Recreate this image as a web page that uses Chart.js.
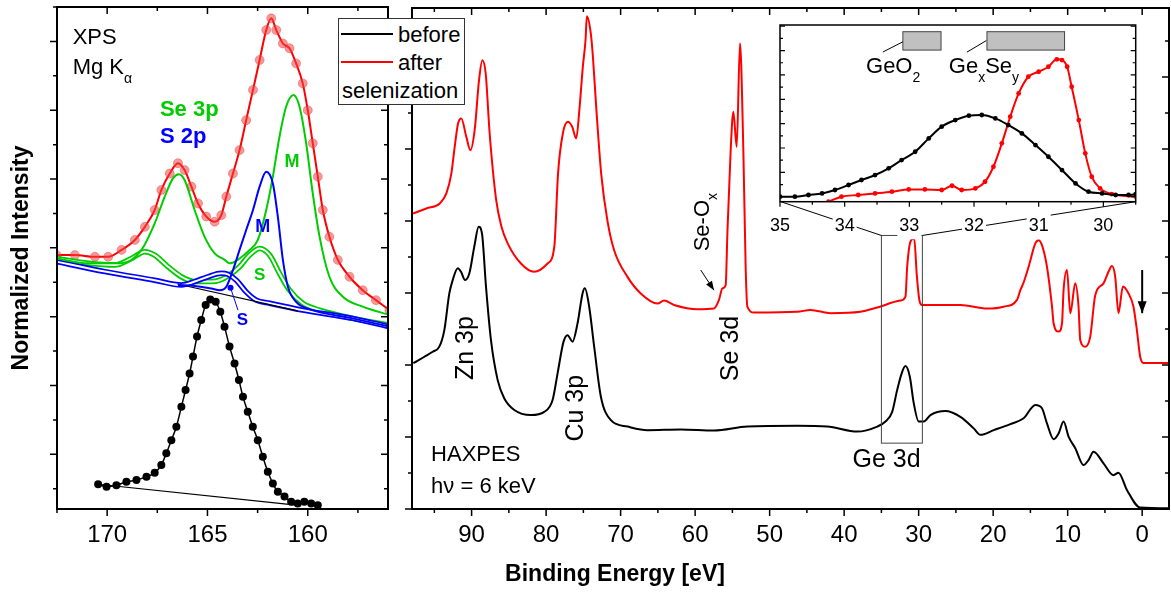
<!DOCTYPE html>
<html>
<head>
<meta charset="utf-8">
<script src="https://cdn.jsdelivr.net/npm/chart.js@4.4.1/dist/chart.umd.min.js"></script>
<style>
  body { margin: 0; background: #fff; }
  #fig { position: relative; width: 1171px; height: 594px; overflow: hidden; font-family: 'Liberation Sans', Arial, sans-serif; color: #000; }
  #fig canvas { position: absolute; }
  #legend { position: absolute; left: 338px; top: 18px; width: 127px; height: 87px; box-sizing: border-box; border: 1px solid #333; background: #fff; font-size: 22px; }
  #legend .sw { position: absolute; left: 2px; width: 52px; height: 2px; }
  #legend span { position: absolute; transform: translateY(-50%); line-height: 1; white-space: nowrap; }
  #xtitle { position: absolute; left: 615px; top: 573px; transform: translate(-50%, -50%); font-size: 23px; font-weight: bold; white-space: nowrap; }
</style>
</head>
<body>
<div id="fig">
  <canvas id="xps" width="400" height="594" style="left:0;top:0"></canvas>
  <canvas id="hax" width="771" height="594" style="left:400px;top:0"></canvas>
  <canvas id="ins" width="400" height="245" style="left:760px;top:0"></canvas>
  <div id="legend">
    <div class="sw" style="top:14px;background:#000"></div><span style="left:59px;top:16px">before</span>
    <div class="sw" style="top:42px;background:#f00"></div><span style="left:59px;top:44px">after</span>
    <span style="left:3px;top:72px">selenization</span>
  </div>
  <div id="xtitle">Binding Energy [eV]</div>
</div>
<script>
const FONT = "'Liberation Sans', Arial, sans-serif";
const RED = '#ff0000', GREEN = '#00cc00', BLUE = '#0000ff';

// --- XPS panel (Se 3p / S 2p), binding energy in eV, intensity in tick units ---
const xpsBeforeE = [170.45, 170.03, 169.54, 169.04, 168.54, 168.04, 167.63, 167.3, 167.05, 166.8,
  166.55, 166.3, 166.09, 165.89, 165.72, 165.52, 165.31, 165.09, 164.86, 164.59,
  164.36, 164.15, 163.9, 163.65, 163.43, 163.23, 162.99, 162.74, 162.49, 162.24,
  161.99, 161.74, 161.49, 161.16, 160.83, 160.5, 160.17, 159.83, 159.5];
const xpsBefore = [1.13, 1.06, 1.10, 1.20, 1.25, 1.35, 1.46, 1.69, 2.03, 2.41,
  2.80, 3.38, 3.87, 4.35, 4.84, 5.42, 5.90, 6.34, 6.50, 6.43,
  6.14, 5.71, 5.13, 4.64, 4.16, 3.67, 3.24, 2.80, 2.41, 1.93,
  1.49, 1.15, 0.91, 0.77, 0.62, 0.57, 0.62, 0.57, 0.52];
const xpsBeforeBgE = [170.45, 160.58];
const xpsBeforeBg = [1.13, 0.52];

const xpsAfterE = [172.52, 171.61, 170.61, 169.95, 169.28, 168.62, 168.12, 167.63, 167.3, 166.88,
  166.47, 166.14, 165.8, 165.47, 165.06, 164.64, 164.31, 164.06, 163.73, 163.4,
  163.07, 162.73, 162.4, 162.07, 161.82, 161.57, 161.24, 160.91, 160.58, 160.25,
  160.0, 159.75, 159.5, 159.25, 158.92, 158.5, 157.92, 157.26, 156.6, 155.93];
const xpsAfter = [7.79, 7.79, 7.74, 7.74, 7.94, 8.23, 8.61, 9.1, 9.68, 10.16,
  10.46, 10.26, 9.78, 9.29, 8.91, 8.76, 8.95, 9.49, 10.16, 10.84,
  11.71, 12.59, 13.46, 14.33, 14.67, 14.33, 13.94, 13.8, 13.36, 12.78,
  12.0, 11.04, 10.07, 9.1, 8.32, 7.65, 7.16, 6.77, 6.48, 6.19];

const seME = [172.52, 170.94, 169.28, 168.29, 167.63, 167.13, 166.72, 166.43, 166.14, 165.64,
  165.14, 164.64, 164.14, 163.9, 163.4, 162.9, 162.49, 162.07, 161.74, 161.41,
  161.08, 160.71, 160.41, 160.08, 159.75, 159.41, 158.92, 158.25, 157.26, 155.93];
const seM = [7.69, 7.55, 7.55, 7.94, 8.71, 9.49, 10.02, 10.14, 9.97, 9.1,
  8.32, 7.84, 7.65, 7.55, 7.69, 7.94, 8.23, 9.1, 10.07, 11.23,
  12.1, 12.44, 12.1, 11.04, 9.58, 8.32, 7.16, 6.58, 6.29, 6.05];

const seSE = [172.52, 170.94, 169.62, 168.79, 168.12, 167.63, 166.96, 166.3, 165.64, 164.81,
  164.39, 163.9, 163.4, 162.9, 162.4, 161.9, 161.41, 160.91, 160.25, 159.41, 157.76, 155.93];
const seS = [7.69, 7.55, 7.5, 7.69, 7.89, 7.79, 7.45, 7.16, 7.02, 7.02,
  7.06, 7.21, 7.45, 7.79, 7.98, 7.79, 7.26, 6.77, 6.39, 6.19, 5.95, 5.76];

const sSE = [172.52, 170.11, 167.63, 166.3, 165.64, 164.98, 164.31, 163.98, 163.56, 163.07,
  162.57, 161.9, 160.25, 157.76, 155.93];
const sS = [7.6, 7.31, 7.06, 6.92, 7.02, 7.16, 7.26, 7.23, 7.06, 6.72,
  6.48, 6.39, 6.19, 5.95, 5.71];

const sME = [166.47, 165.64, 164.81, 164.39, 164.06, 163.73, 163.4, 163.07, 162.73, 162.4,
  162.07, 161.74, 161.49, 161.24, 160.99, 160.58, 159.92, 157.76, 155.93];
const sM = [6.92, 6.89, 6.82, 6.77, 6.87, 7.35, 7.94, 8.52, 9.1, 9.78,
  10.21, 9.87, 8.9, 7.65, 6.87, 6.43, 6.22, 5.95, 5.71];

const xpsBgE = [166.5, 160.5];
const xpsBg = [6.95, 6.17];

const xpsMajorE = [170, 165, 160];
const xpsMinorE = [172.5, 167.5, 162.5, 157.5];
const xpsMajorY = [2, 4, 6, 8, 10, 12, 14];
const xpsMinorY = [1, 3, 5, 7, 9, 11, 13, 15];

// --- HAXPES survey ---
const haxAfterE = [97.86, 96.07, 94.28, 93.39, 92.72, 92.27, 91.82, 91.38, 90.71, 90.17,
  89.59, 89.0, 88.56, 88.11, 87.58, 86.7, 86.0, 85.16, 83.38, 81.6,
  79.8, 78.9, 78.4, 77.75, 77.08, 76.5, 75.96, 75.5, 75.07, 74.71,
  74.53, 74.0, 73.73, 73.28, 72.6, 71.76, 70.87, 69.08, 67.3, 65.05,
  64.17, 62.83, 59.69, 57.47, 56.8, 56.34, 55.9, 55.67, 55.23, 54.87,
  54.42, 53.98, 53.53, 53.22, 52.99, 52.1, 46.29, 44.5, 41.82, 37.8,
  35.56, 32.44, 31.77, 31.54, 31.1, 30.6, 30.25, 29.9, 29.55, 24.4,
  20.82, 18.59, 16.8, 16.35, 15.9, 15.24, 14.34, 13.9, 13.45, 12.78,
  12.1, 11.89, 11.22, 10.76, 10.55, 10.09, 9.65, 8.98, 8.54, 8.31,
  7.64, 6.97, 6.3, 5.19, 4.52, 4.06, 3.62, 3.18, 2.59, 1.84,
  1.17, 0.71, 0.27, -0.17, -3.75];
const haxAfter = [8.21, 8.35, 8.49, 8.77, 9.32, 10.06, 10.71, 10.85, 10.34, 9.97,
  10.53, 11.92, 12.47, 12.1, 10.44, 8.58, 7.85, 7.38, 6.82, 6.59,
  6.82, 7.29, 9.32, 10.44, 10.76, 10.62, 10.3, 11.18, 12.29, 13.03,
  13.69, 13.21, 12.6, 11.18, 9.3, 8.0, 7.19, 6.45, 5.99, 5.71,
  5.79, 5.67, 5.55, 5.57, 5.81, 6.13, 6.22, 7.66, 9.97, 11.04,
  10.06, 12.94, 9.97, 6.73, 5.62, 5.46, 5.48, 5.53, 5.44, 5.48,
  5.6, 5.79, 5.9, 6.73, 7.43, 7.52, 6.5, 5.8, 5.67, 5.67,
  5.57, 5.62, 5.81, 6.08, 6.3, 6.73, 7.38, 7.47, 7.33, 6.73,
  5.62, 5.16, 4.93, 5.16, 6.08, 6.64, 5.44, 6.27, 5.62, 4.69,
  4.51, 4.79, 5.94, 6.27, 6.59, 6.75, 6.45, 5.44, 6.18, 5.99,
  5.62, 4.97, 4.23, 4.06, 4.06];

const haxBeforeE = [97.82, 96.34, 95.22, 94.33, 93.66, 92.99, 92.54, 91.86, 91.42, 90.88,
  90.3, 89.64, 89.05, 88.61, 88.07, 87.4, 86.5, 85.61, 84.27, 82.04,
  80.25, 79.13, 78.46, 77.66, 77.12, 76.45, 75.78, 75.11, 74.8, 74.22,
  73.55, 72.65, 71.31, 69.08, 66.39, 61.93, 57.47, 52.99, 46.29, 42.27,
  38.24, 35.56, 34.45, 33.55, 32.88, 32.21, 31.77, 31.19, 30.66, 29.99,
  29.32, 28.42, 26.41, 24.4, 22.61, 21.72, 19.93, 17.69, 15.91, 14.34,
  13.45, 12.78, 11.89, 11.22, 10.55, 9.88, 8.98, 7.87, 7.2, 6.53,
  5.19, 3.85, 3.18, 2.05, 0.27, -3.75];
const haxBefore = [4.05, 4.23, 4.37, 4.51, 4.97, 5.99, 6.36, 6.69, 6.59, 6.36,
  6.55, 7.29, 7.84, 7.66, 6.18, 4.69, 3.58, 3.07, 2.75, 2.61,
  2.7, 3.03, 3.77, 4.65, 4.83, 4.65, 5.16, 5.99, 6.13, 5.62,
  4.51, 3.12, 2.47, 2.29, 2.19, 2.21, 2.18, 2.29, 2.31, 2.29,
  2.15, 2.29, 2.43, 2.7, 3.31, 3.81, 3.97, 3.68, 2.94, 2.43,
  2.43, 2.61, 2.72, 2.56, 2.24, 2.06, 2.19, 2.36, 2.52, 2.89,
  2.8, 2.38, 1.94, 2.1, 2.43, 2.01, 1.69, 1.22, 1.36, 1.59,
  1.27, 0.94, 1.01, 0.53, 0.04, 0.02];

const haxMajorE = [0, 10, 20, 30, 40, 50, 60, 70, 80, 90];
const haxMinorE = [5, 15, 25, 35, 45, 55, 65, 75, 85, 95];
const haxMajorY = [0, 2, 4, 6, 8, 10, 12];
const haxMinorY = [1, 3, 5, 7, 9, 11, 13];

// --- inset: Ge 3d ---
const geBeforeE = [35.0, 34.77, 34.56, 34.35, 34.15, 33.94, 33.74, 33.53, 33.32, 33.12,
  32.91, 32.7, 32.5, 32.29, 32.08, 31.88, 31.67, 31.47, 31.26, 31.05,
  30.85, 30.64, 30.43, 30.23, 30.02, 29.81, 29.61, 29.5];
const geBefore = [0, 0, 0.14, 0.27, 0.55, 0.96, 1.37, 1.78, 2.33, 3.01,
  3.69, 4.79, 5.75, 6.29, 6.65, 6.71, 6.43, 5.88, 5.2, 4.24,
  3.28, 2.19, 1.09, 0.41, 0.27, 0.14, 0.14, 0.22];
const geAfterE = [34.25, 34.05, 33.79, 33.53, 33.27, 33.01, 32.76, 32.5, 32.34, 32.19,
  31.98, 31.83, 31.7, 31.57, 31.44, 31.31, 31.16, 31.0, 30.85, 30.72,
  30.64, 30.56, 30.49, 30.38, 30.28, 30.18, 30.05, 29.87, 29.5];
const geAfter = [-0.41, 0, 0.14, 0.27, 0.41, 0.6, 0.6, 0.55, 0.9, 0.55,
  0.68, 1.23, 2.46, 4.38, 6.57, 8.48, 9.85, 10.26, 10.67, 11.28,
  11.22, 10.67, 9.03, 6.29, 3.56, 1.64, 0.68, 0.22, 0];

const geMajorE = [30, 31, 32, 33, 34, 35];
const geMinorE = [29.5, 30.5, 31.5, 32.5, 33.5, 34.5];
const geMajorY = [0, 2, 4, 6, 8, 10, 12, 14];
const geMinorY = [1, 3, 5, 7, 9, 11, 13];

function pts(xs, ys) { return xs.map((x, i) => ({ x, y: ys[i] })); }

function curve(data, color, width, order, extra) {
  return Object.assign({
    data, borderColor: color, borderWidth: width, pointRadius: 0, fill: false,
    cubicInterpolationMode: 'monotone', order
  }, extra || {});
}

// open-circle components drawn as a hollow tube
function tube(data, color, order) {
  return [curve(data, color, 5.5, order), curve(data, '#fff', 2, order - 0.5)];
}

// frame + tick layout and annotations per canvas (kept outside the chart options)
const FRAMES = {
  xps: {
    lineWidth: 2, tickWidth: 1.5, len: [7, 4],
    sides: { left: 'out', right: 'in', top: 'in', bottom: 'out' },
    major: { x: xpsMajorE, y: xpsMajorY }, minor: { x: xpsMinorE, y: xpsMinorY }
  },
  hax: {
    lineWidth: 2, tickWidth: 1.5, len: [7, 4],
    sides: { left: 'out', right: 'in', top: 'in', bottom: 'out' },
    major: { x: haxMajorE, y: haxMajorY }, minor: { x: haxMinorE, y: haxMinorY }
  },
  ins: {
    bg: '#fff', lineWidth: 1.5, tickWidth: 1.2, len: [5, 3],
    sides: { left: 'in', right: 'in', bottom: 'out' },
    major: { x: geMajorE, y: geMajorY }, minor: { x: geMinorE, y: geMinorY }
  }
};

const NOTES = {
  xps: {
    lines: [{ from: [163.85, 6.84], to: [163.48, 6.19], color: BLUE, width: 1 }],
    dots: [{ at: [163.85, 6.84], r: 3, color: BLUE }],
    texts: [
      { at: [171.72, 14.1], text: 'XPS', size: 22 },
      { at: [171.72, 13.23], parts: [['Mg K', 0], ['α', 1]], size: 22 },
      { at: [167.37, 12.0], text: 'Se 3p', size: 22, bold: true, color: GREEN },
      { at: [167.37, 11.23], text: 'S 2p', size: 22, bold: true, color: BLUE },
      { at: [160.78, 10.5], text: 'M', size: 18, bold: true, color: GREEN, align: 'center' },
      { at: [162.24, 8.61], text: 'M', size: 18, bold: true, color: BLUE, align: 'center' },
      { at: [162.4, 7.21], text: 'S', size: 17, bold: true, color: GREEN, align: 'center' },
      { at: [163.26, 5.9], text: 'S', size: 17, bold: true, color: BLUE, align: 'center' }
    ]
  },
  hax: {
    rects: [{ x0: 35, x1: 29.5, y0: 1.83, y1: 7.6, stroke: '#444', width: 1 }],
    lines: [
      { from: [48.53, 8.54], to: [35, 7.6], width: 1 },
      { from: [0.84, 8.54], to: [29.5, 7.6], width: 1 },
      { from: [59.25, 6.64], to: [57.47, 6.08], width: 1, head: [9, 3.5] },
      { from: [0, 6.64], to: [0, 5.44], width: 2, head: [12, 4.5] }
    ],
    texts: [
      { at: [90.75, 4.47], text: 'Zn 3p', size: 25, rot: -90, align: 'center' },
      { at: [76.0, 2.8], text: 'Cu 3p', size: 25, rot: -90, align: 'center' },
      { at: [55.2, 4.46], text: 'Se 3d', size: 25, rot: -90, align: 'center' },
      { at: [59.0, 7.97], parts: [['Se-O', 0], ['x', 1]], size: 22, rot: -90, align: 'center' },
      { at: [34.3, 1.36], text: 'Ge 3d', size: 25, align: 'center' },
      { at: [95.44, 1.5], text: 'HAXPES', size: 22 },
      { at: [95.44, 0.62], text: 'hν = 6 keV', size: 22 }
    ]
  },
  ins: {
    rects: [
      { x0: 33.1, x1: 32.51, y0: 12.04, y1: 13.55, paint: '#c0c0c0', stroke: '#444' },
      { x0: 31.8, x1: 30.6, y0: 12.04, y1: 13.55, paint: '#c0c0c0', stroke: '#444' }
    ],
    lines: [
      { from: [33.41, 11.88], to: [33.1, 12.72], width: 1 },
      { from: [32.11, 11.87], to: [31.81, 12.82], width: 1 }
    ],
    texts: [
      { at: [33.67, 10.67], parts: [['GeO', 0], ['2', 1]], size: 22 },
      { at: [32.39, 10.67], parts: [['Ge', 0], ['x', 1], ['Se', 0], ['y', 1]], size: 22 }
    ]
  }
};

function drawRich(ctx, t, x, y) {
  const size = t.size || 22;
  const weight = t.bold ? 'bold ' : '';
  const subSize = Math.round(size * 0.62);
  const parts = t.parts || [[t.text, 0]];
  const fontOf = sub => weight + (sub ? subSize : size) + 'px ' + FONT;
  ctx.save();
  ctx.translate(x, y);
  if (t.rot) ctx.rotate(t.rot * Math.PI / 180);
  ctx.fillStyle = t.color || '#000';
  ctx.textBaseline = 'middle';
  ctx.textAlign = 'left';
  let w = 0;
  parts.forEach(([s, sub]) => { ctx.font = fontOf(sub); w += ctx.measureText(s).width; });
  let cx = t.align === 'center' ? -w / 2 : 0;
  parts.forEach(([s, sub]) => {
    ctx.font = fontOf(sub);
    ctx.fillText(s, cx, sub ? size * 0.5 : 0);
    cx += ctx.measureText(s).width;
  });
  ctx.restore();
}

function arrowHead(ctx, x0, y0, x1, y1, len, half) {
  const a = Math.atan2(y1 - y0, x1 - x0);
  const bx = x1 - len * Math.cos(a), by = y1 - len * Math.sin(a);
  ctx.beginPath();
  ctx.moveTo(x1, y1);
  ctx.lineTo(bx + half * Math.sin(a), by - half * Math.cos(a));
  ctx.lineTo(bx - half * Math.sin(a), by + half * Math.cos(a));
  ctx.closePath();
  ctx.fill();
}

// frame with major / minor ticks on each side, placed through the chart scales
const frameTicks = {
  id: 'frameTicks',
  beforeDatasetsDraw(chart) {
    const o = FRAMES[chart.canvas.id];
    if (!o || !o.bg) return;
    const a = chart.chartArea;
    chart.ctx.save();
    chart.ctx.fillStyle = o.bg;
    chart.ctx.fillRect(a.left, a.top, a.right - a.left, a.bottom - a.top);
    chart.ctx.restore();
  },
  afterDraw(chart) {
    const o = FRAMES[chart.canvas.id];
    if (!o) return;
    const { ctx, chartArea: a } = chart;
    const sx = chart.scales.x, sy = chart.scales.y;
    const sign = { bottom: 1, top: -1, left: -1, right: 1 };
    ctx.save();
    ctx.strokeStyle = '#000';
    ctx.lineWidth = o.lineWidth;
    ctx.strokeRect(a.left, a.top, a.right - a.left, a.bottom - a.top);
    ctx.lineWidth = o.tickWidth;
    ctx.beginPath();
    Object.keys(o.sides).forEach(side => {
      const d = sign[side] * (o.sides[side] === 'out' ? 1 : -1);
      const horiz = side === 'top' || side === 'bottom';
      const sc = horiz ? sx : sy;
      const base = a[side];
      [[o.major[horiz ? 'x' : 'y'], o.len[0]], [o.minor[horiz ? 'x' : 'y'], o.len[1]]].forEach(([vals, len]) => {
        vals.forEach(v => {
          const p = sc.getPixelForValue(v);
          if (horiz) { ctx.moveTo(p, base); ctx.lineTo(p, base + d * len); }
          else { ctx.moveTo(base, p); ctx.lineTo(base + d * len, p); }
        });
      });
    });
    ctx.stroke();
    ctx.restore();
  }
};

// labels, arrows and boxes in data coordinates
const notes = {
  id: 'notes',
  afterDatasetsDraw(chart) {
    const o = NOTES[chart.canvas.id];
    if (!o) return;
    const { ctx } = chart;
    const X = v => chart.scales.x.getPixelForValue(v);
    const Y = v => chart.scales.y.getPixelForValue(v);
    ctx.save();
    (o.rects || []).forEach(r => {
      const x0 = X(r.x0), x1 = X(r.x1), y0 = Y(r.y0), y1 = Y(r.y1);
      if (r.paint) { ctx.fillStyle = r.paint; ctx.fillRect(x0, y1, x1 - x0, y0 - y1); }
      ctx.strokeStyle = r.stroke || '#000';
      ctx.lineWidth = r.width || 1;
      ctx.strokeRect(x0, y1, x1 - x0, y0 - y1);
    });
    (o.lines || []).forEach(l => {
      const x0 = X(l.from[0]), y0 = Y(l.from[1]), x1 = X(l.to[0]), y1 = Y(l.to[1]);
      ctx.strokeStyle = l.color || '#000';
      ctx.fillStyle = l.color || '#000';
      ctx.lineWidth = l.width || 1;
      ctx.beginPath();
      ctx.moveTo(x0, y0);
      ctx.lineTo(x1, y1);
      ctx.stroke();
      if (l.head) arrowHead(ctx, x0, y0, x1, y1, l.head[0], l.head[1]);
    });
    (o.dots || []).forEach(d => {
      ctx.fillStyle = d.color;
      ctx.beginPath();
      ctx.arc(X(d.at[0]), Y(d.at[1]), d.r, 0, Math.PI * 2);
      ctx.fill();
    });
    (o.texts || []).forEach(t => drawRich(ctx, t, X(t.at[0]), Y(t.at[1])));
    ctx.restore();
  }
};

Chart.register(frameTicks, notes);
Chart.defaults.font.family = FONT;
Chart.defaults.color = '#000';
Chart.defaults.animation = false;

function xAxis(min, max, ticks, size, pad, height) {
  return {
    type: 'linear', reverse: true, min, max,
    grid: { display: false, drawTicks: false }, border: { display: false },
    ticks: { font: { size }, padding: pad, color: '#000', autoSkip: false, maxRotation: 0 },
    afterBuildTicks: s => { s.ticks = ticks.map(value => ({ value })); },
    afterFit: s => { s.height = height; }
  };
}

const baseOpts = { responsive: false, devicePixelRatio: 1, animation: false, events: [] };
const quiet = { legend: { display: false }, tooltip: { enabled: false } };

// ---------- left panel: XPS ----------
new Chart(document.getElementById('xps'), {
  type: 'line',
  data: {
    datasets: [
      curve(pts(xpsAfterE, xpsAfter), RED, 2, 10, {
        pointRadius: 4.5, pointBackgroundColor: 'rgba(240,70,70,0.55)', pointBorderColor: 'rgba(225,40,40,0.6)', pointBorderWidth: 0.6
      }),
      ...tube(pts(seSE, seS), GREEN, 8),
      ...tube(pts(sSE, sS), BLUE, 6),
      curve(pts(xpsBgE, xpsBg), '#000', 1.2, 4, { cubicInterpolationMode: 'default', tension: 0 }),
      curve(pts(seME, seM), GREEN, 2, 3),
      curve(pts(sME, sM), BLUE, 2, 2),
      curve(pts(xpsBeforeBgE, xpsBeforeBg), '#000', 1.2, 1.5, { cubicInterpolationMode: 'default', tension: 0 }),
      curve(pts(xpsBeforeE, xpsBefore), '#000', 1.5, 1, { pointRadius: 4, pointBackgroundColor: '#000', pointBorderColor: '#000', pointBorderWidth: 0 })
    ]
  },
  options: {
    ...baseOpts,
    layout: { padding: { left: 0, right: 12, top: 7, bottom: 0 } },
    plugins: quiet,
    scales: {
      x: xAxis(156, 172.5, xpsMajorE, 24, 12, 85),
      y: {
        min: 0.41, max: 15,
        grid: { display: false, drawTicks: false }, border: { display: false },
        ticks: { display: false },
        title: { display: true, text: 'Normalized Intensity', color: '#000', font: { size: 23, weight: 'bold' }, padding: { top: 8, bottom: 0 } },
        afterFit: s => { s.width = 57; }
      }
    }
  }
});

// ---------- main panel: HAXPES ----------
new Chart(document.getElementById('hax'), {
  type: 'line',
  data: {
    datasets: [
      curve(pts(haxAfterE, haxAfter), RED, 2, 2),
      curve(pts(haxBeforeE, haxBefore), '#000', 2, 1)
    ]
  },
  options: {
    ...baseOpts,
    layout: { padding: { left: 12, right: 2, top: 8, bottom: 0 } },
    plugins: quiet,
    scales: {
      x: xAxis(-3.6, 98, haxMajorE, 24, 12, 85),
      y: { display: false, min: 0, max: 13.92 }
    }
  }
});

// ---------- inset: Ge 3d ----------
const insX = xAxis(29.5, 35, geMajorE, 18, 14, 43.3);
insX.ticks.showLabelBackdrop = true;
insX.ticks.backdropColor = '#fff';
insX.ticks.backdropPadding = 2;

new Chart(document.getElementById('ins'), {
  type: 'line',
  data: {
    datasets: [
      curve(pts(geAfterE, geAfter), RED, 2, 2, { pointRadius: 2.4, pointBackgroundColor: RED, pointBorderWidth: 0 }),
      curve(pts(geBeforeE, geBefore), '#000', 2, 1, { pointRadius: 2.4, pointBackgroundColor: '#000', pointBorderWidth: 0 })
    ]
  },
  options: {
    ...baseOpts,
    layout: { padding: { left: 20, right: 24.3, top: 25, bottom: 0 } },
    plugins: quiet,
    scales: {
      x: insX,
      y: { display: false, min: -0.41, max: 14.1 }
    }
  }
});
</script>
</body>
</html>
